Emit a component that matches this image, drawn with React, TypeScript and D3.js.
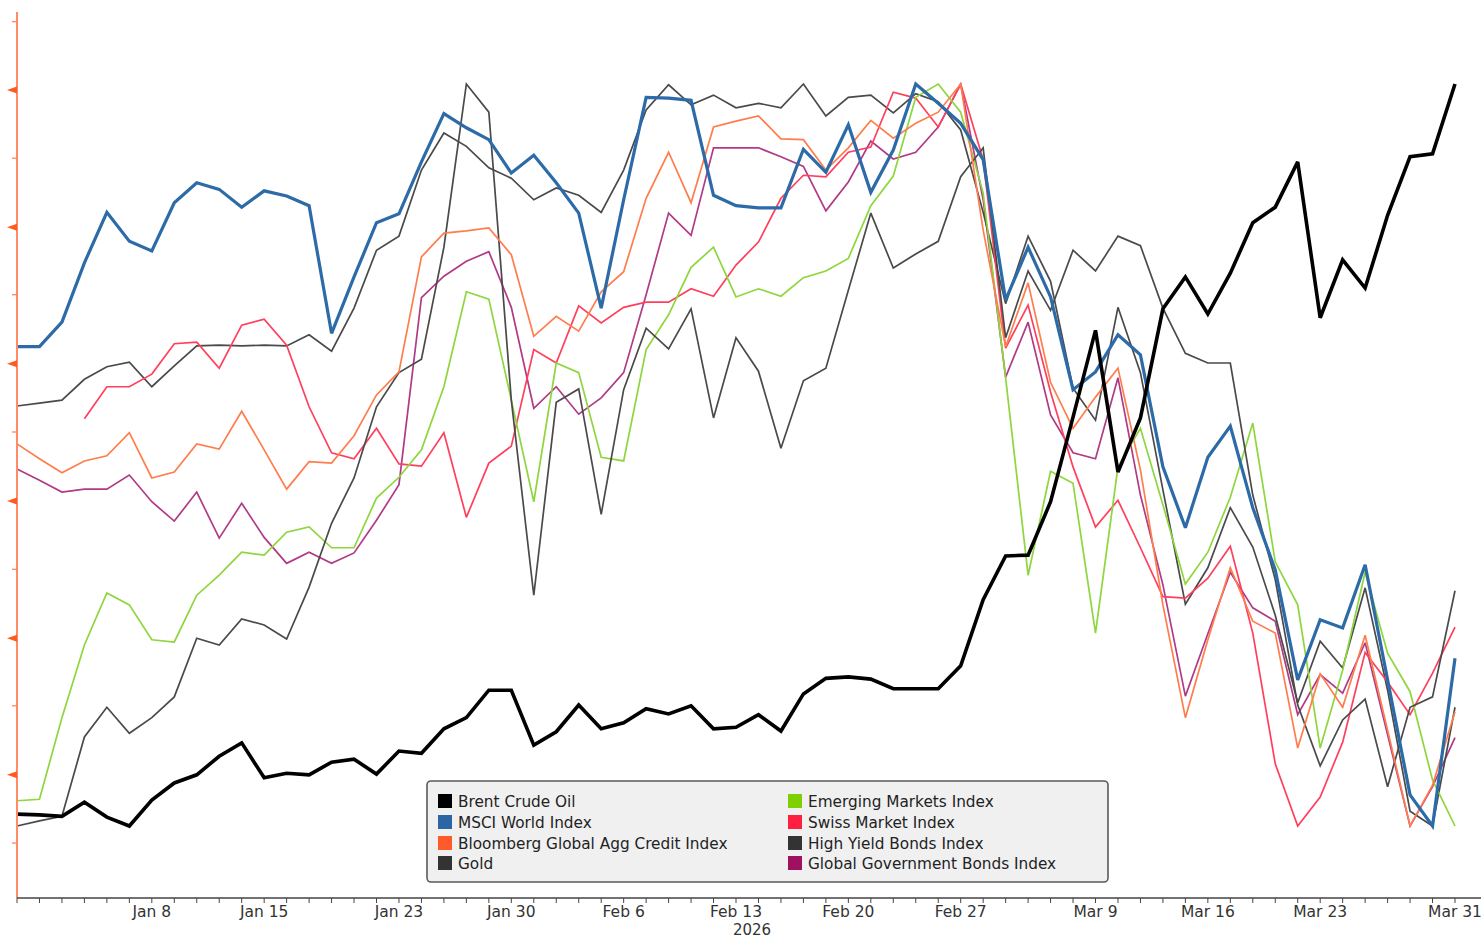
import { useEffect, useRef } from "react";
import * as d3 from "d3";

// normalised 0-100 (min..max of each series over the window)
const brent = [1.6, 1.5, 1.3, 3.2, 1.2, 0, 3.5, 5.8, 6.9, 9.4, 11.2, 6.5, 7.1, 6.9, 8.6, 9.0, 7.0, 10.1, 9.8, 13.1, 14.6, 18.3, 18.3, 10.9, 12.7, 16.3, 13.1, 13.9, 15.8, 15.1, 16.2, 13.1, 13.3, 15.0, 12.8, 17.8, 19.9, 20.1, 19.8, 18.5, 18.5, 18.5, 21.6, 30.5, 36.4, 36.5, 43.7, 55.1, 66.8, 47.7, 55.0, 69.7, 74.0, 69.0, 74.5, 81.3, 83.4, 89.5, 68.5, 76.3, 72.5, 82.3, 90.2, 90.6, 100];
const msciWorld = [64.6, 64.6, 67.9, 75.9, 82.7, 78.8, 77.5, 84.0, 86.7, 85.8, 83.4, 85.6, 84.9, 83.6, 66.4, 74.0, 81.3, 82.5, 89.5, 96.0, 94.1, 92.5, 88.0, 90.4, 86.7, 82.6, 69.8, 84.4, 98.2, 98.1, 97.8, 85.0, 83.6, 83.3, 83.3, 91.2, 88.1, 94.5, 85.4, 91.1, 100, 97.4, 94.7, 89.8, 70.9, 78.0, 71.3, 58.8, 61.2, 66.2, 63.5, 48.4, 40.2, 49.7, 53.9, 42.9, 34.5, 19.7, 27.8, 26.7, 35.2, 19.7, 4.2, 0, 22.6];
const aggCredit = [51.5, 49.5, 47.6, 49.2, 49.9, 53.0, 46.9, 47.7, 51.5, 50.8, 55.9, 50.7, 45.4, 49.1, 48.9, 52.6, 58.1, 61.2, 76.7, 79.9, 80.2, 80.6, 77.0, 66.0, 68.7, 66.7, 72.0, 74.7, 84.6, 90.8, 84.0, 94.2, 95.0, 95.7, 92.6, 92.5, 88.4, 91.4, 95.1, 92.7, 94.7, 96.2, 100, 80.3, 64.6, 73.2, 59.8, 53.6, 57.8, 61.7, 48.0, 29.8, 14.6, 25.1, 34.8, 27.6, 26.0, 10.5, 20.5, 16.0, 25.7, 12.9, 0, 5.5, 15.4];
const gold = [0, 0.7, 1.3, 12.0, 16.0, 12.5, 14.6, 17.4, 25.3, 24.4, 27.9, 27.1, 25.2, 32.2, 40.8, 46.9, 56.5, 61.1, 62.9, 78.0, 100, 96.2, 57.4, 31.1, 57.1, 58.9, 42.0, 58.8, 67.1, 64.3, 69.7, 55.0, 65.8, 61.3, 50.9, 60.0, 61.7, 72.2, 82.6, 75.2, 77.1, 78.8, 87.5, 91.4, 65.8, 74.8, 69.5, 77.6, 74.8, 79.5, 78.2, 69.8, 63.7, 62.4, 62.4, 44.6, 33.2, 16.3, 8.1, 14.3, 17.1, 5.3, 16.0, 17.4, 31.7];
const emergingMkts = [3.4, 3.6, 14.6, 24.4, 31.4, 29.8, 25.1, 24.8, 31.1, 33.8, 36.9, 36.5, 39.6, 40.3, 37.5, 37.5, 44.2, 47.0, 50.7, 59.2, 72.0, 71.0, 57.4, 43.7, 62.4, 61.1, 49.7, 49.2, 64.2, 68.9, 75.3, 78.0, 71.3, 72.4, 71.4, 73.9, 74.8, 76.5, 83.6, 87.6, 98.2, 100, 96.2, 85.3, 60.4, 33.8, 47.8, 46.2, 26.0, 48.4, 53.6, 43.3, 32.6, 36.9, 44.3, 54.3, 35.6, 29.8, 10.5, 21.0, 34.2, 23.3, 18.1, 6.2, 0];
const swissMarket = [null, null, null, 54.9, 59.2, 59.2, 60.9, 65.0, 65.2, 61.7, 67.5, 68.3, 64.8, 56.5, 50.3, 49.5, 53.6, 48.8, 48.5, 53.0, 41.6, 48.9, 51.2, 64.2, 62.4, 70.1, 67.8, 69.9, 70.6, 70.6, 72.4, 71.4, 75.6, 78.7, 84.6, 87.7, 87.5, 90.8, 91.5, 98.9, 98.1, 94.2, 100, 89.8, 64.4, 70.2, 58.5, 48.4, 40.3, 43.9, 37.5, 30.9, 30.7, 33.4, 37.7, 26.0, 8.4, 0, 3.9, 11.3, 23.4, 19.4, 15.0, 20.6, 26.8];
const highYield = [56.6, 57.0, 57.4, 60.2, 61.9, 62.5, 59.2, 62.0, 64.7, 64.8, 64.7, 64.8, 64.7, 66.2, 64.0, 69.8, 77.6, 79.5, 88.4, 93.4, 91.6, 88.7, 87.3, 84.4, 86.0, 85.0, 82.7, 88.4, 96.5, 99.9, 97.2, 98.5, 96.8, 97.4, 96.8, 100, 95.7, 98.2, 98.5, 96.1, 98.7, 97.6, 93.8, 82.7, 70.4, 79.5, 73.4, 59.0, 54.7, 69.9, 61.1, 45.3, 29.9, 34.8, 42.9, 37.6, 28.4, 16.6, 24.9, 21.3, 32.1, 18.3, 2.0, 0, 16.0];
const govtBonds = [48.1, 46.6, 45.0, 45.4, 45.4, 47.3, 43.7, 41.1, 45.0, 38.8, 43.5, 38.9, 35.4, 36.9, 35.4, 36.8, 41.2, 46.0, 71.2, 74.1, 76.1, 77.4, 69.9, 56.3, 59.2, 55.5, 57.7, 61.1, 71.6, 82.6, 79.6, 91.4, 91.4, 91.4, 90.2, 88.9, 82.9, 86.8, 92.3, 89.9, 90.8, 94.2, 100, 84.4, 60.5, 67.9, 55.4, 50.3, 49.5, 60.4, 44.6, 32.5, 17.5, 25.9, 34.2, 29.4, 27.6, 15.0, 20.4, 17.9, 24.7, 12.3, 0, 5.3, 11.9];

const tickDates = ["2026-01-08", "2026-01-15", "2026-01-23", "2026-01-30", "2026-02-06", "2026-02-13", "2026-02-20", "2026-02-27", "2026-03-09", "2026-03-16", "2026-03-23", "2026-03-31"];
const tickLabels = ["Jan 8", "Jan 15", "Jan 23", "Jan 30", "Feb 6", "Feb 13", "Feb 20", "Feb 27", "Mar 9", "Mar 16", "Mar 23", "Mar 31"];
const yMajorTicks = [6.9, 25.3, 43.8, 62.3, 80.7, 99.2];
const yMinorTicks = [-2.3, 16.2, 34.6, 53.1, 71.6, 90.0, 108.4];

type Series = { name: string; values: (number | null)[]; line: string; swatch: string; width: number };

const series: Series[] = [
  { name: "Brent Crude Oil", values: brent, line: "#000000", swatch: "#000000", width: 3.6 },
  { name: "MSCI World Index", values: msciWorld, line: "#2c6ba8", swatch: "#2a66a6", width: 3.2 },
  { name: "Bloomberg Global Agg Credit Index", values: aggCredit, line: "#ff7d4d", swatch: "#ff5a2a", width: 1.7 },
  { name: "Gold", values: gold, line: "#4a4a4a", swatch: "#333333", width: 1.7 },
  { name: "Emerging Markets Index", values: emergingMkts, line: "#8ed63c", swatch: "#7ed000", width: 1.7 },
  { name: "Swiss Market Index", values: swissMarket, line: "#ff3f5c", swatch: "#ff1f40", width: 1.7 },
  { name: "High Yield Bonds Index", values: highYield, line: "#4a4a4a", swatch: "#333333", width: 1.7 },
  { name: "Global Government Bonds Index", values: govtBonds, line: "#b13a86", swatch: "#a01060", width: 1.7 },
];

const fmt = d3.timeFormat("%Y-%m-%d");
const tradingDays = d3.timeDay
  .range(new Date(2025, 11, 31), new Date(2026, 3, 1))
  .filter((d) => d.getDay() !== 0 && d.getDay() !== 6)
  .map(fmt);

const FONT = "'DejaVu Sans', Verdana, sans-serif";

export default function App() {
  const svgRef = useRef<SVGSVGElement>(null);

  useEffect(() => {
    const svg = svgRef.current;
    if (!svg) return;
    d3.select(svg).selectAll("*").remove();

    const width = 1481;
    const height = 940;
    const axisX = 17;
    const axisY = 898;

    const x = d3.scalePoint<string>().domain(tradingDays).range([17, 1455]);
    const y = d3.scaleLinear().domain([0, 100]).range([826, 84]);

    const root = d3.select(svg).attr("width", width).attr("height", height);
    root.append("rect").attr("width", width).attr("height", height).attr("fill", "#ffffff");

    // lines (legend order reversed so Brent sits on top)
    const line = d3
      .line<number | null>()
      .defined((d) => d !== null)
      .x((_, i) => x(tradingDays[i]) ?? 0)
      .y((d) => y(d as number));

    const gLines = root.append("g");
    [...series].reverse().forEach((s) => {
      gLines
        .append("path")
        .datum(s.values)
        .attr("d", line)
        .attr("fill", "none")
        .attr("stroke", s.line)
        .attr("stroke-width", s.width)
        .attr("stroke-linejoin", "miter")
        .attr("stroke-miterlimit", 3);
    });

    // left axis
    const gy = root.append("g");
    gy.append("line")
      .attr("x1", axisX)
      .attr("x2", axisX)
      .attr("y1", 12)
      .attr("y2", axisY)
      .attr("stroke", "#ff8c66")
      .attr("stroke-width", 2);
    gy.selectAll("path.major")
      .data(yMajorTicks)
      .enter()
      .append("path")
      .attr("d", (d) => `M${axisX},${y(d) - 3.5} L${axisX - 10},${y(d)} L${axisX},${y(d) + 3.5} Z`)
      .attr("fill", "#ff5a1f");
    gy.selectAll("line.minor")
      .data(yMinorTicks)
      .enter()
      .append("line")
      .attr("x1", axisX - 5)
      .attr("x2", axisX)
      .attr("y1", (d) => y(d))
      .attr("y2", (d) => y(d))
      .attr("stroke", "#ff7a4d")
      .attr("stroke-width", 1.2);

    // bottom axis
    const gx = root.append("g");
    gx.append("line")
      .attr("x1", axisX)
      .attr("x2", width)
      .attr("y1", axisY)
      .attr("y2", axisY)
      .attr("stroke", "#444")
      .attr("stroke-width", 1.5);
    gx.selectAll("line.tick")
      .data(tradingDays)
      .enter()
      .append("line")
      .attr("x1", (d) => x(d) ?? 0)
      .attr("x2", (d) => x(d) ?? 0)
      .attr("y1", axisY)
      .attr("y2", axisY + 5)
      .attr("stroke", "#444")
      .attr("stroke-width", 1);
    gx.selectAll("text.lbl")
      .data(tickDates)
      .enter()
      .append("text")
      .attr("x", (d) => x(d) ?? 0)
      .attr("y", 917)
      .attr("text-anchor", "middle")
      .attr("font-family", FONT)
      .attr("font-size", 15.5)
      .attr("fill", "#333")
      .text((_, i) => tickLabels[i]);
    gx.append("text")
      .attr("x", 752)
      .attr("y", 935)
      .attr("text-anchor", "middle")
      .attr("font-family", FONT)
      .attr("font-size", 15)
      .attr("fill", "#333")
      .text("2026");

    // legend
    const lg = root.append("g");
    lg.append("rect")
      .attr("x", 427)
      .attr("y", 781)
      .attr("width", 681)
      .attr("height", 101)
      .attr("rx", 4)
      .attr("fill", "#f0f0f0")
      .attr("stroke", "#5a5a5a")
      .attr("stroke-width", 1.6);
    const colX = [438, 788];
    const rowY = [801, 822, 843, 863];
    series.forEach((s, i) => {
      const cx = colX[Math.floor(i / 4)];
      const cy = rowY[i % 4];
      lg.append("rect").attr("x", cx).attr("y", cy - 7).attr("width", 14).attr("height", 14).attr("fill", s.swatch);
      lg.append("text")
        .attr("x", cx + 20)
        .attr("y", cy + 5.5)
        .attr("font-family", FONT)
        .attr("font-size", 15.3)
        .attr("fill", "#222")
        .text(s.name);
    });
  }, []);

  return (
    <div style={{ position: "absolute", left: 0, top: 0 }}>
      <svg ref={svgRef} style={{ display: "block" }} />
    </div>
  );
}
